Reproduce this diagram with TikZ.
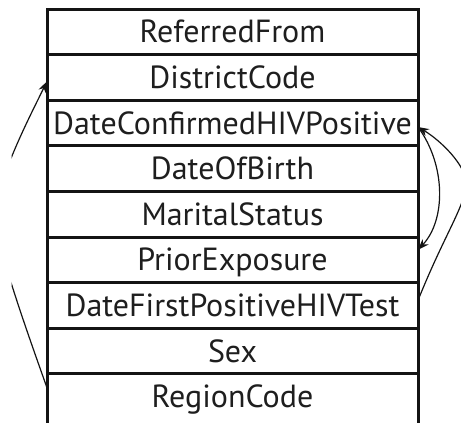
\documentclass[tikz,border=0pt]{standalone}
\usepackage{fontspec}
\setmainfont{PT Sans}
\usetikzlibrary{arrows.meta,positioning}
\definecolor{rowtext}{RGB}{30,30,30}
\definecolor{rowline}{RGB}{20,20,20}

\begin{document}
\begin{tikzpicture}[x=1pt, y=-1pt, node distance=0pt,
    field/.style={draw=rowline, line width=3pt, minimum width=371pt,
      minimum height=45.6pt, outer sep=0pt, inner sep=0pt,
      text height=22pt, text depth=0pt, text=rowtext,
      font=\fontsize{32}{38}\selectfont},
    link/.style={draw=rowline, line width=1.2pt},
    tip/.style={-{Stealth[length=11pt,width=8pt]}}]
    \useasboundingbox (0,0) rectangle (461,423);
    \clip (11.5,0) rectangle (461,423);

    % the record, one field per row
    \node[field, anchor=north] (referred) at (232.5,9) {ReferredFrom};
    \node[field, below=of referred] (district) {DistrictCode};
    \node[field, below=of district] (confirmed) {DateConfirmedHIVPositive};
    \node[field, below=of confirmed] (birth) {DateOfBirth};
    \node[field, below=of birth] (marital) {MaritalStatus};
    \node[field, below=of marital] (prior) {PriorExposure};
    \node[field, below=of prior] (firstpos) {DateFirstPositiveHIVTest};
    \node[field, below=of firstpos] (sex) {Sex};
    \node[field, below=of sex, minimum height=57.6pt, text depth=12pt]
      (region) {RegionCode};

    % links, partly running off the picture
    \coordinate (lpeak) at (-4,223);
    \coordinate (rpeak) at (466,183);
    \draw[link, tip] ([yshift=-14pt]region.north west)
      .. controls (25,326) and (0,255) .. (lpeak)
      .. controls (-8,190) and (26,124) .. ([yshift=-4pt]district.west);
    \draw[link, tip] ([yshift=-4pt]confirmed.east)
      .. controls (446,165) and (446,220) .. ([yshift=10pt]prior.east);
    \draw[link, tip] ([yshift=5pt]firstpos.east)
      .. controls (445,233) and (466,205) .. (rpeak)
      .. controls (466,165) and (440,140) .. ([yshift=-4pt]confirmed.east);
\end{tikzpicture}
\end{document}
